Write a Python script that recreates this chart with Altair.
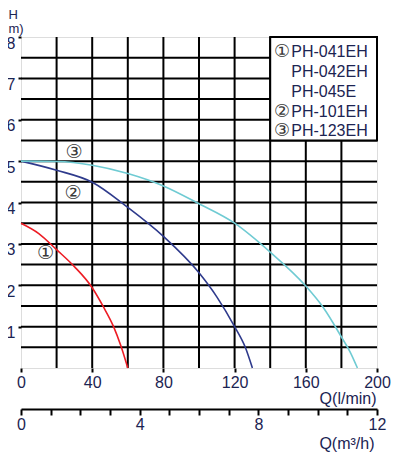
import altair as alt
import pandas as pd

# ---------------- data ----------------
red_q = [0, 10, 20, 30, 40, 46, 52, 56, 60]
red_h = [3.5, 3.25, 2.86, 2.45, 1.94, 1.5, 1.0, 0.55, 0]

blue_q = [0, 20, 40, 60, 80, 100, 110, 120, 126, 130]
blue_h = [5.0, 4.78, 4.49, 3.88, 3.18, 2.3, 1.72, 1.0, 0.5, 0]

cyan_q = [0, 20, 40, 60, 80, 100, 120, 140, 160, 170, 180, 185, 189]
cyan_h = [5.0, 4.99, 4.9, 4.7, 4.4, 3.97, 3.5, 2.8, 1.98, 1.45, 0.75, 0.38, 0]

curve_names = ["1", "2", "3"]
curve_colors = ["#ed1c24", "#2e3a8c", "#6fcbd3"]

q_labels = [0, 40, 80, 120, 160, 200]
h_labels = [1, 2, 3, 4, 5, 6, 7, 8]
grid_q = [20, 40, 60, 80, 100, 120, 140, 160, 180]
grid_h = [0.5, 1, 1.5, 2, 2.5, 3, 3.5, 4, 4.5, 5, 5.5, 6, 6.5, 7, 7.5]
m3h_ticks = list(range(13))

# legend box (text panel, top right)
legend_marks = ["①", "", "", "②", "③"]
legend_models = ["PH-041EH", "PH-042EH", "PH-045E", "PH-101EH", "PH-123EH"]
legend_h = [7.63, 7.15, 6.67, 6.19, 5.72]
legend_mark_q = [146.6] * 5
legend_model_q = [151.8] * 5
box_q = [140, 200]
box_h = [5.5, 8]

# circled labels next to the curves
curve_label_text = ["①", "②", "③"]
curve_label_q = [13.8, 29.2, 29.8]
curve_label_h = [2.77, 4.24, 5.21]

NAVY = "#1c2452"
FONT = "Liberation Sans"

# ---------------- tables ----------------
rows = []
for name, qs, hs in zip(curve_names, [red_q, blue_q, cyan_q], [red_h, blue_h, cyan_h]):
    for i, (q, h) in enumerate(zip(qs, hs)):
        rows.append({"curve": name, "Q": q, "H": h, "i": i})
df_curves = pd.DataFrame(rows)
df_vgrid = pd.DataFrame({"Q": grid_q})
df_hgrid = pd.DataFrame({"H": grid_h})
df_box = pd.DataFrame({"Q": [box_q[0]], "Q2": [box_q[1]], "H": [box_h[0]], "H2": [box_h[1]]})
df_leg_marks = pd.DataFrame({"t": legend_marks, "Q": legend_mark_q, "H": legend_h})
df_leg_models = pd.DataFrame({"t": legend_models, "Q": legend_model_q, "H": legend_h})
df_lab = pd.DataFrame({"t": curve_label_text, "Q": curve_label_q, "H": curve_label_h})
df_m3 = pd.DataFrame({"M": [0, 12]})

xscale = alt.Scale(domain=[0, 200], nice=False, zero=False)
yscale = alt.Scale(domain=[0, 8], nice=False, zero=False)

x_axis = alt.Axis(
    values=q_labels, grid=False, domain=False,
    tickColor="black", tickWidth=2, tickSize=4,
    labelFont=FONT, labelFontSize=16, labelColor=NAVY, labelPadding=2,
    labelFlush=False, labelOverlap=False,
    title="Q(l/min)", titleFont=FONT, titleFontSize=16, titleFontWeight="normal",
    titleColor=NAVY, titleAnchor="end", titleAlign="right", titleBaseline="alphabetic",
    titleX=355, titleY=35.5,
)
y_axis = alt.Axis(
    values=h_labels, grid=False, domain=False,
    tickColor="black", tickWidth=2, tickSize=3,
    labelFont=FONT, labelFontSize=16, labelColor=NAVY, labelPadding=3,
    labelOffset=6, labelOverlap=False,
    title=["H", "m)"], titleAngle=0, titleAlign="left", titleBaseline="top",
    titleFont=FONT, titleFontSize=13, titleFontWeight="normal", titleColor=NAVY,
    titleX=-13, titleY=-29, titleLineHeight=14,
)

X = alt.X("Q:Q", scale=xscale, axis=x_axis)
Y = alt.Y("H:Q", scale=yscale, axis=y_axis)

vgrid = alt.Chart(df_vgrid).mark_rule(color="black", strokeWidth=2).encode(x=X)
hgrid = alt.Chart(df_hgrid).mark_rule(color="black", strokeWidth=2).encode(y=Y)

curves = alt.Chart(df_curves).mark_line(strokeWidth=1.6, interpolate="monotone").encode(
    x=X, y=Y,
    color=alt.Color("curve:N", scale=alt.Scale(domain=curve_names, range=curve_colors), legend=None),
    order="i:Q",
)

box = alt.Chart(df_box).mark_rect(fill="white", stroke="black", strokeWidth=2).encode(
    x=X, x2="Q2", y=Y, y2="H2"
)

leg_marks = alt.Chart(df_leg_marks).mark_text(
    font="DejaVu Sans", fontSize=18, color="#3a3a3a", align="center", baseline="middle"
).encode(x=X, y=Y, text="t:N")

leg_models = alt.Chart(df_leg_models).mark_text(
    font=FONT, fontSize=16, color=NAVY, align="left", baseline="middle"
).encode(x=X, y=Y, text="t:N")

labels = alt.Chart(df_lab).mark_text(
    font="DejaVu Sans", fontSize=19, color="#3a3a3a", align="center", baseline="middle"
).encode(x=X, y=Y, text="t:N")

main = alt.layer(vgrid, hgrid, curves, box, leg_marks, leg_models, labels)

sec = alt.Chart(df_m3).mark_point(opacity=0).encode(
    x=alt.X("M:Q", scale=alt.Scale(domain=[0, 12], nice=False, zero=False),
            axis=alt.Axis(
                orient="bottom", offset=41, values=m3h_ticks,
                labelExpr="datum.value % 4 === 0 ? datum.label : ''",
                grid=False, domain=True, domainColor="black", domainWidth=2,
                tickColor="black", tickWidth=2, tickSize=6,
                labelFont=FONT, labelFontSize=16, labelColor=NAVY, labelPadding=1,
                labelFlush=False, labelOverlap=False,
                title="Q(m³/h)", titleFont=FONT, titleFontSize=16, titleFontWeight="normal",
                titleColor=NAVY, titleAnchor="end", titleAlign="right",
                titleBaseline="alphabetic", titleX=353, titleY=39.5,
            ))
)

chart = alt.layer(main, sec).resolve_scale(x="independent").properties(
    width=356, height=331,
    autosize=alt.AutoSizeParams(type="none"),
    padding={"left": 13, "top": 29, "right": 14, "bottom": 90},
).configure_view(stroke="black", strokeWidth=2).configure(background="white")

chart.save("out.html", embed_options={"renderer": "svg", "actions": False})
